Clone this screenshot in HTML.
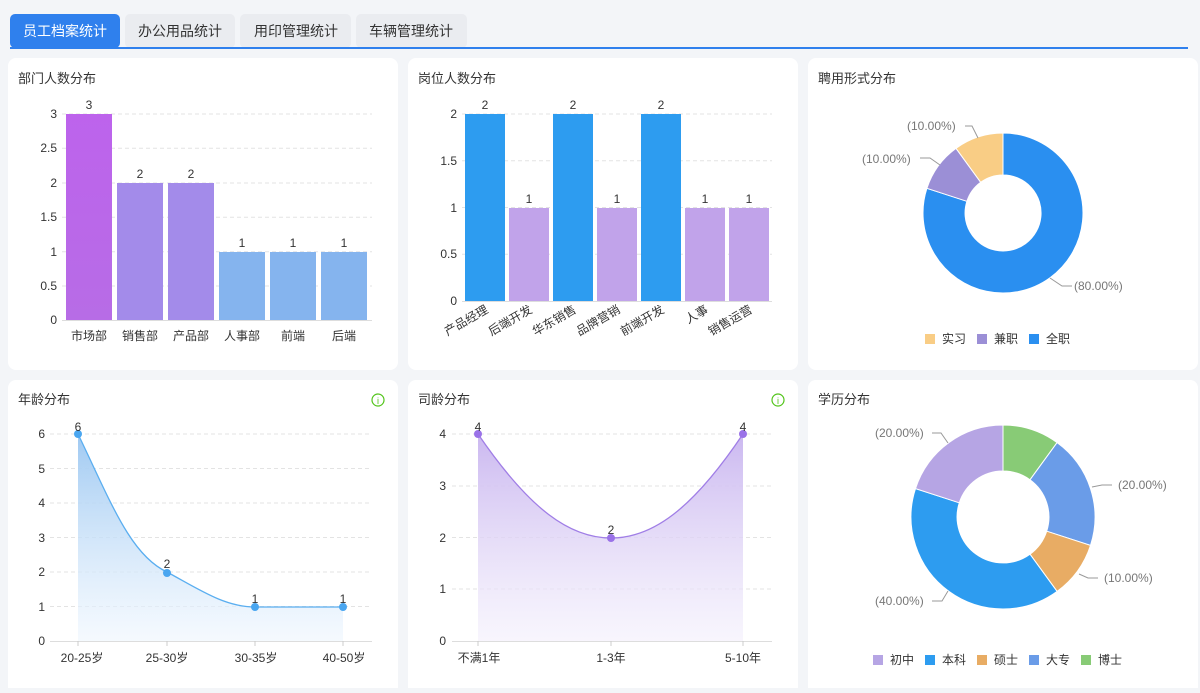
<!DOCTYPE html>
<html><head><meta charset="utf-8"><style>
body{margin:0;width:1200px;height:688px;background:#f3f5f8;overflow:hidden;font-family:"Liberation Sans","Noto Sans CJK SC",sans-serif}
svg text{font-family:"Liberation Sans","Noto Sans CJK SC",sans-serif}
</style></head><body>
<svg width="1200" height="688" xmlns="http://www.w3.org/2000/svg">
<defs>
<linearGradient id="g1" x1="0" y1="0" x2="0" y2="1"><stop offset="0" stop-color="#bd63ec"/><stop offset="1" stop-color="#b76ce6"/></linearGradient>
<linearGradient id="ga" x1="0" y1="0" x2="0" y2="1"><stop offset="0" stop-color="#9fc9f2"/><stop offset="1" stop-color="#eef6fe" stop-opacity="0.6"/></linearGradient>
<linearGradient id="gs" x1="0" y1="0" x2="0" y2="1"><stop offset="0" stop-color="#cbb8f0"/><stop offset="1" stop-color="#f3effc" stop-opacity="0.6"/></linearGradient>
</defs>
<!-- tabs -->
<rect x="10" y="14" width="110" height="34" rx="5" fill="#2f80ed"/>
<rect x="125" y="14" width="110" height="34" rx="5" fill="#eaecf0"/>
<rect x="240" y="14" width="111" height="34" rx="5" fill="#eaecf0"/>
<rect x="356" y="14" width="111" height="34" rx="5" fill="#eaecf0"/>
<rect x="10" y="47" width="1178" height="2" fill="#2f80ed"/>
<g font-size="14" text-anchor="middle"><text x="65" y="36" fill="#fff">员工档案统计</text><text x="180" y="36" fill="#333">办公用品统计</text><text x="296" y="36" fill="#333">用印管理统计</text><text x="411" y="36" fill="#333">车辆管理统计</text></g>
<!-- cards -->
<g fill="#fff"><rect x="8" y="58" width="390" height="312" rx="8"/><rect x="408" y="58" width="390" height="312" rx="8"/><rect x="808" y="58" width="390" height="312" rx="8"/>
<rect x="8" y="380" width="390" height="320" rx="8"/><rect x="408" y="380" width="390" height="320" rx="8"/><rect x="808" y="380" width="390" height="320" rx="8"/></g>
<g font-size="13" fill="#333"><text x="18" y="83">部门人数分布</text><text x="418" y="83">岗位人数分布</text><text x="818" y="83">聘用形式分布</text><text x="18" y="404">年龄分布</text><text x="418" y="404">司龄分布</text><text x="818" y="404">学历分布</text></g>
<circle cx="378" cy="400" r="6" fill="none" stroke="#52c41a" stroke-width="1.2"/><text x="378" y="404" font-size="9" fill="#52c41a" text-anchor="middle">i</text>
<circle cx="778" cy="400" r="6" fill="none" stroke="#52c41a" stroke-width="1.2"/><text x="778" y="404" font-size="9" fill="#52c41a" text-anchor="middle">i</text>
<!-- chart1 -->
<g stroke="#e3e3e3" stroke-dasharray="4 3"><line x1="62" x2="372" y1="114" y2="114"/><line x1="62" x2="372" y1="148.3" y2="148.3"/><line x1="62" x2="372" y1="183" y2="183"/><line x1="62" x2="372" y1="217.3" y2="217.3"/><line x1="62" x2="372" y1="251.7" y2="251.7"/><line x1="62" x2="372" y1="286" y2="286"/></g>
<line x1="62" x2="372" y1="320.5" y2="320.5" stroke="#ddd"/>
<g font-size="12" fill="#333" text-anchor="end"><text x="57" y="118">3</text><text x="57" y="152">2.5</text><text x="57" y="187">2</text><text x="57" y="221">1.5</text><text x="57" y="256">1</text><text x="57" y="290">0.5</text><text x="57" y="324">0</text></g>
<rect x="66" y="114" width="46" height="206" fill="url(#g1)"/>
<rect x="117" y="183" width="46" height="137" fill="#a38bea"/><rect x="168" y="183" width="46" height="137" fill="#a38bea"/>
<rect x="219" y="252" width="46" height="68" fill="#85b4ee"/><rect x="270" y="252" width="46" height="68" fill="#85b4ee"/><rect x="321" y="252" width="46" height="68" fill="#85b4ee"/>
<g font-size="12" fill="#333" text-anchor="middle"><text x="89" y="109">3</text><text x="140" y="178">2</text><text x="191" y="178">2</text><text x="242" y="247">1</text><text x="293" y="247">1</text><text x="344" y="247">1</text>
<text x="89" y="340">市场部</text><text x="140" y="340">销售部</text><text x="191" y="340">产品部</text><text x="242" y="340">人事部</text><text x="293" y="340">前端</text><text x="344" y="340">后端</text></g>
<!-- chart2 -->
<g stroke="#e3e3e3" stroke-dasharray="4 3"><line x1="462" x2="772" y1="114" y2="114"/><line x1="462" x2="772" y1="160.7" y2="160.7"/><line x1="462" x2="772" y1="207.5" y2="207.5"/><line x1="462" x2="772" y1="254.2" y2="254.2"/></g>
<line x1="462" x2="772" y1="301.5" y2="301.5" stroke="#ddd"/>
<g font-size="12" fill="#333" text-anchor="end"><text x="457" y="118">2</text><text x="457" y="165">1.5</text><text x="457" y="212">1</text><text x="457" y="258">0.5</text><text x="457" y="305">0</text></g>
<g fill="#2d9cf0"><rect x="465" y="114" width="40" height="187"/><rect x="553" y="114" width="40" height="187"/><rect x="641" y="114" width="40" height="187"/></g>
<g fill="#c1a3ea"><rect x="509" y="208" width="40" height="93"/><rect x="597" y="208" width="40" height="93"/><rect x="685" y="208" width="40" height="93"/><rect x="729" y="208" width="40" height="93"/></g>
<g font-size="12" fill="#333" text-anchor="middle"><text x="485" y="109">2</text><text x="529" y="203">1</text><text x="573" y="109">2</text><text x="617" y="203">1</text><text x="661" y="109">2</text><text x="705" y="203">1</text><text x="749" y="203">1</text></g>
<g font-size="12" fill="#333" text-anchor="end">
<text transform="translate(489,312) rotate(-30)">产品经理</text><text transform="translate(533,312) rotate(-30)">后端开发</text><text transform="translate(577,312) rotate(-30)">华东销售</text><text transform="translate(621,312) rotate(-30)">品牌营销</text><text transform="translate(665,312) rotate(-30)">前端开发</text><text transform="translate(709,312) rotate(-30)">人事</text><text transform="translate(753,312) rotate(-30)">销售运营</text></g>
<!-- pie1 -->
<path d="M1003,133 A80,80 0 1 1 926.9,188.3 L966.9,201.3 A38,38 0 1 0 1003,175 Z" fill="#2a8ff0" stroke="#fff"/>
<path d="M926.9,188.3 A80,80 0 0 1 956,148.3 L980.7,182.3 A38,38 0 0 0 966.9,201.3 Z" fill="#9b8fd6" stroke="#fff"/>
<path d="M956,148.3 A80,80 0 0 1 1003,133 L1003,175 A38,38 0 0 0 980.7,182.3 Z" fill="#f9cd85" stroke="#fff"/>
<g fill="none" stroke="#999"><polyline points="1050,278 1062,286 1072,286"/><polyline points="940,165 930,158 920,158"/><polyline points="978,138 972,126 965,126"/></g>
<g font-size="12" fill="#777"><text x="1074" y="290">(80.00%)</text><text x="862" y="163">(10.00%)</text><text x="907" y="130">(10.00%)</text></g>
<g font-size="12" fill="#333"><rect x="925" y="334" width="10" height="10" fill="#f9cd85"/><text x="942" y="343">实习</text><rect x="977" y="334" width="10" height="10" fill="#9b8fd6"/><text x="994" y="343">兼职</text><rect x="1029" y="334" width="10" height="10" fill="#2a8ff0"/><text x="1046" y="343">全职</text></g>
<!-- pie2 -->
<path d="M1003,425 A92,92 0 0 1 1057.1,442.6 L1030,479.8 A46,46 0 0 0 1003,471 Z" fill="#88cb76" stroke="#fff"/>
<path d="M1057.1,442.6 A92,92 0 0 1 1090.5,545.4 L1046.7,531.2 A46,46 0 0 0 1030,479.8 Z" fill="#6a9ce8" stroke="#fff"/>
<path d="M1090.5,545.4 A92,92 0 0 1 1057.1,591.4 L1030,554.2 A46,46 0 0 0 1046.7,531.2 Z" fill="#e8ac64" stroke="#fff"/>
<path d="M1057.1,591.4 A92,92 0 0 1 915.5,488.6 L959.3,502.8 A46,46 0 0 0 1030,554.2 Z" fill="#2d9cf0" stroke="#fff"/>
<path d="M915.5,488.6 A92,92 0 0 1 1003,425 L1003,471 A46,46 0 0 0 959.3,502.8 Z" fill="#b6a5e4" stroke="#fff"/>
<g fill="none" stroke="#999"><polyline points="948,443 941,433 932,433"/><polyline points="1092,487 1102,485 1112,485"/><polyline points="1079,574 1088,578 1098,578"/><polyline points="948,591 942,601 932,601"/><polyline points="1031,418 1034,410"/></g>
<g font-size="12" fill="#777"><text x="875" y="437">(20.00%)</text><text x="1118" y="489">(20.00%)</text><text x="1104" y="582">(10.00%)</text><text x="875" y="605">(40.00%)</text><text x="1052" y="416">(10.00%)</text></g>
<rect x="808" y="380" width="390" height="40" fill="#fff" rx="8"/><text x="818" y="404" font-size="13" fill="#333">学历分布</text>
<g font-size="12" fill="#333"><rect x="873" y="655" width="10" height="10" fill="#b6a5e4"/><text x="890" y="664">初中</text><rect x="925" y="655" width="10" height="10" fill="#2d9cf0"/><text x="942" y="664">本科</text><rect x="977" y="655" width="10" height="10" fill="#e8ac64"/><text x="994" y="664">硕士</text><rect x="1029" y="655" width="10" height="10" fill="#6a9ce8"/><text x="1046" y="664">大专</text><rect x="1081" y="655" width="10" height="10" fill="#88cb76"/><text x="1098" y="664">博士</text></g>
<!-- age -->
<g stroke="#e3e3e3" stroke-dasharray="4 3"><line x1="50" x2="372" y1="434" y2="434"/><line x1="50" x2="372" y1="468.5" y2="468.5"/><line x1="50" x2="372" y1="503" y2="503"/><line x1="50" x2="372" y1="537.5" y2="537.5"/><line x1="50" x2="372" y1="572" y2="572"/><line x1="50" x2="372" y1="606.5" y2="606.5"/></g>
<line x1="50" x2="372" y1="641.5" y2="641.5" stroke="#ddd"/>
<g stroke="#ccc"><line x1="78" x2="78" y1="641" y2="646"/><line x1="167" x2="167" y1="641" y2="646"/><line x1="255" x2="255" y1="641" y2="646"/><line x1="343" x2="343" y1="641" y2="646"/></g>
<path d="M78,434 C110,500 130,555 167,572 C200,590 225,607 255,607 L343,607 L343,641 L78,641 Z" fill="url(#ga)"/>
<path d="M78,434 C110,500 130,555 167,572 C200,590 225,607 255,607 L343,607" fill="none" stroke="#5aaef0" stroke-width="1.3"/>
<g fill="#4aa6f0"><circle cx="78" cy="434" r="4"/><circle cx="167" cy="573" r="4"/><circle cx="255" cy="607" r="4"/><circle cx="343" cy="607" r="4"/></g>
<g font-size="12" fill="#333" text-anchor="end"><text x="45" y="438">6</text><text x="45" y="473">5</text><text x="45" y="507">4</text><text x="45" y="542">3</text><text x="45" y="576">2</text><text x="45" y="611">1</text><text x="45" y="645">0</text></g>
<g font-size="12" fill="#333" text-anchor="middle"><text x="78" y="431">6</text><text x="167" y="568">2</text><text x="255" y="603">1</text><text x="343" y="603">1</text><text x="82" y="662">20-25岁</text><text x="167" y="662">25-30岁</text><text x="256" y="662">30-35岁</text><text x="344" y="662">40-50岁</text></g>
<!-- service -->
<g stroke="#e3e3e3" stroke-dasharray="4 3"><line x1="452" x2="772" y1="434" y2="434"/><line x1="452" x2="772" y1="486" y2="486"/><line x1="452" x2="772" y1="537.5" y2="537.5"/><line x1="452" x2="772" y1="589" y2="589"/></g>
<line x1="452" x2="772" y1="641.5" y2="641.5" stroke="#ddd"/>
<g stroke="#ccc"><line x1="478" x2="478" y1="641" y2="646"/><line x1="611" x2="611" y1="641" y2="646"/><line x1="743" x2="743" y1="641" y2="646"/></g>
<path d="M478,434 C530,510 570,538 611,538 C652,538 692,510 743,434 L743,641 L478,641 Z" fill="url(#gs)"/>
<path d="M478,434 C530,510 570,538 611,538 C652,538 692,510 743,434" fill="none" stroke="#a07ee6" stroke-width="1.3"/>
<g fill="#9a72e8"><circle cx="478" cy="434" r="4"/><circle cx="611" cy="538" r="4"/><circle cx="743" cy="434" r="4"/></g>
<g font-size="12" fill="#333" text-anchor="end"><text x="446" y="438">4</text><text x="446" y="490">3</text><text x="446" y="542">2</text><text x="446" y="593">1</text><text x="446" y="645">0</text></g>
<g font-size="12" fill="#333" text-anchor="middle"><text x="478" y="431">4</text><text x="611" y="534">2</text><text x="743" y="431">4</text><text x="479" y="662">不满1年</text><text x="611" y="662">1-3年</text><text x="743" y="662">5-10年</text></g>
</svg>
</body></html>
